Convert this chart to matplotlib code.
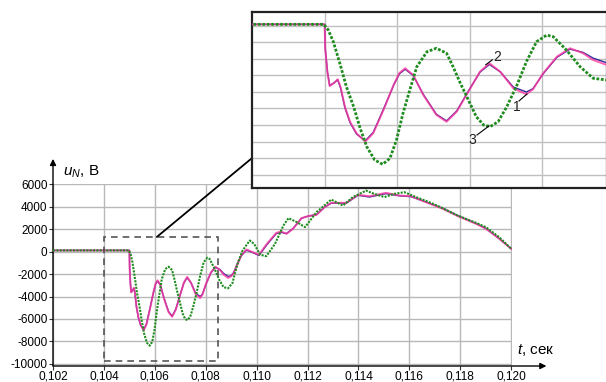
import numpy as np
import matplotlib
matplotlib.use("Agg")
import matplotlib.pyplot as plt
from matplotlib.patches import Rectangle, ConnectionPatch

plt.rcParams['font.family'] = ['Liberation Sans', 'DejaVu Sans']
plt.rcParams['mathtext.fontset'] = 'custom'
plt.rcParams['mathtext.it'] = 'Liberation Sans:italic'
plt.rcParams['mathtext.rm'] = 'Liberation Sans'
plt.rcParams['axes.unicode_minus'] = False

# curve 2 (pink) and curve 1 (blue), time in s, voltage in V
t_pb = [0.10200, 0.10500, 0.10501, 0.10504, 0.10507, 0.10513, 0.10518, 0.10522,
        0.10528, 0.10535, 0.10544, 0.10556, 0.10567, 0.10581, 0.10595, 0.10603,
        0.10611, 0.10622, 0.10636, 0.10654, 0.10668, 0.10682, 0.10698, 0.10714,
        0.10727, 0.10742, 0.10760, 0.10778, 0.10787, 0.10801, 0.10820, 0.10838,
        0.10856, 0.10870, 0.10888, 0.10900, 0.10910, 0.10925, 0.10940, 0.10960,
        0.10985, 0.11009, 0.11040, 0.11077, 0.11097, 0.11117, 0.11143, 0.11176,
        0.11202, 0.11235, 0.11267, 0.11293, 0.11352, 0.11398, 0.11443, 0.11508,
        0.11561, 0.11607, 0.11665, 0.11731, 0.11790, 0.11862, 0.11901, 0.11953,
        0.12000]
v_pink = [100, 100, -1450, -2850, -3640, -3450, -3230, -3700,
          -4900, -5800, -6500, -7010, -6500, -5100, -3580, -2850,
          -2560, -2970, -4180, -5390, -5800, -5190, -3980, -2770,
          -2260, -2770, -3780, -4140, -3840, -2870, -1860, -1350,
          -1650, -2060, -2350, -2200, -1900, -1100, -355, 180,
          -55, -290, 680, 1660, 1780, 1570, 2020, 2970,
          3150, 3260, 3950, 4330, 4330, 5040, 4920, 5220,
          4980, 4920, 4390, 3800, 3150, 2460, 2020, 1130,
          240]
v_blue = [100, 100, -1400, -2800, -3600, -3450, -3260, -3750,
          -4950, -5850, -6550, -6950, -6450, -5050, -3600, -2900,
          -2620, -3000, -4150, -5350, -5750, -5150, -3950, -2800,
          -2330, -2780, -3700, -4000, -3800, -2900, -1900, -1400,
          -1600, -1950, -2220, -2150, -1850, -1050, -350, 120,
          -100, -350, 600, 1600, 1700, 1600, 2050, 2950,
          3150, 3280, 3950, 4300, 4300, 5000, 4850, 5150,
          4950, 4880, 4400, 3850, 3200, 2500, 2050, 1150,
          260]

# curve 3 (green)
t_green = [0.10200, 0.10499, 0.10505, 0.10512, 0.10521, 0.10530, 0.10540, 0.10549,
           0.10558, 0.10569, 0.10580, 0.10590, 0.10599, 0.10608, 0.10618, 0.10627,
           0.10641, 0.10654, 0.10668, 0.10677, 0.10687, 0.10698, 0.10709, 0.10719,
           0.10728, 0.10739, 0.10751, 0.10765, 0.10778, 0.10792, 0.10806, 0.10815,
           0.10833, 0.10852, 0.10870, 0.10888, 0.10905, 0.10915, 0.10927, 0.10945,
           0.10973, 0.10990, 0.11014, 0.11038, 0.11072, 0.11105, 0.11125, 0.11158,
           0.11190, 0.11235, 0.11293, 0.11339, 0.11378, 0.11430, 0.11462, 0.11502,
           0.11541, 0.11580, 0.11626, 0.11678, 0.11730, 0.11789, 0.11862, 0.11901,
           0.11953, 0.12000]
v_green = [100, 100, -240, -950, -2260, -3680, -4890, -6200,
           -7310, -8120, -8380, -8020, -6910, -5290, -3780, -2470,
           -1560, -1350, -1650, -2470, -3470, -4480, -5500, -6000,
           -6100, -5800, -4890, -3580, -2160, -950, -550, -650,
           -1450, -2470, -3170, -3270, -2800, -1900, -940, 100,
           980, 680, -290, -410, 680, 2310, 2970, 2610,
           2170, 3500, 4620, 4090, 4840, 5420, 5130, 4840,
           5130, 5280, 4840, 4390, 3860, 3200, 2550, 2160,
           1270, 240]

x_ticks = np.arange(0.102, 0.1205, 0.002)
y_ticks = np.arange(-10000, 6001, 2000)

PINK = '#ff3aa0'
BLUE = '#2a2a9a'
GREEN = '#1e8c1e'
GRID = '#b8b8b8'

W, H = 606, 382
fig = plt.figure(figsize=(W / 100, H / 100), dpi=100)

def fr(x0, y0, x1, y1):
    return [x0 / W, 1 - y1 / H, (x1 - x0) / W, (y1 - y0) / H]

def draw_curves(a, lwg):
    a.plot(t_pb, v_blue, color=BLUE, lw=1.0, zorder=3)
    a.plot(t_pb, v_pink, color=PINK, lw=1.4, alpha=0.8, zorder=4)
    a.plot(t_green, v_green, color=GREEN, lw=lwg, ls=(0, (1, 0.6)), zorder=5)

# main axes
ax = fig.add_axes(fr(53, 183.5, 512, 366))
draw_curves(ax, 1.5)
ax.set_xlim(0.102, 0.12003)
ax.set_ylim(-10180, 6050)
ax.set_xticks(x_ticks)
ax.set_xticklabels([("%.3f" % v).replace('.', ',') for v in x_ticks], fontsize=8.6)
ax.set_yticks(y_ticks)
ax.set_yticklabels(["%d" % v for v in y_ticks], fontsize=8.5)
ax.tick_params(axis='both', direction='out', length=3, width=0.8, pad=1, color='#333333')
ax.tick_params(axis='x', pad=0)
ax.grid(True, color=GRID, lw=1)
for s in ax.spines.values():
    s.set_visible(False)
ax.annotate('', xy=(0, 1.135), xytext=(0, 0), xycoords='axes fraction',
            arrowprops=dict(arrowstyle='-|>', color='k', lw=1, mutation_scale=9,
                            shrinkA=0, shrinkB=0))
ax.annotate('', xy=(1.075, 0), xytext=(0, 0), xycoords='axes fraction',
            arrowprops=dict(arrowstyle='-|>', color='k', lw=1, mutation_scale=9,
                            shrinkA=0, shrinkB=0))

# dashed zoom box
ax.add_patch(Rectangle((0.104, -9716), 0.00447, 11023, fill=False, ls=(0, (4, 3)),
                       color='#555555', lw=1.2, zorder=6))

fig.text(63 / W, 1 - 172 / H, r"$u_N$, В", fontsize=11, va='center', ha='left')
fig.text(517 / W, 1 - 350 / H, r"$t$, сек", fontsize=11, va='center', ha='left')

# inset
axins = fig.add_axes(fr(252, 12, 607, 188), zorder=10)
draw_curves(axins, 2.0)
axins.set_xlim(0.104, 0.10889)
axins.set_ylim(-9818, 848)
axins.set_xticks([0.105, 0.106, 0.107, 0.108])
axins.set_yticks(np.arange(-9000, 1, 1000))
axins.tick_params(length=0, labelbottom=False, labelleft=False)
axins.grid(True, color='#c0c0c0', lw=1)
for s in axins.spines.values():
    s.set_color('#222222')
    s.set_linewidth(1.6)

for txt, tx, ty, x0, y0, x1, y1 in [("2", 0.10738, -1850, 0.10731, -2050, 0.10722, -2350),
                                    ("1", 0.10765, -4909, 0.107678, -4545, 0.107788, -4121),
                                    ("3", 0.10703, -6909, 0.107099, -6606, 0.107264, -6060)]:
    axins.text(tx, ty, txt, fontsize=10, ha='center', va='center', color='#222222', zorder=8)
    axins.plot([x0, x1], [y0, y1], color='k', lw=0.8, zorder=8)

con = ConnectionPatch(xyA=(0.10608, 1300), coordsA='data', axesA=ax,
                      xyB=(0, 0.17), coordsB='axes fraction', axesB=axins,
                      color='k', lw=1.3)
fig.add_artist(con)

fig.savefig("out.png", dpi=100)
